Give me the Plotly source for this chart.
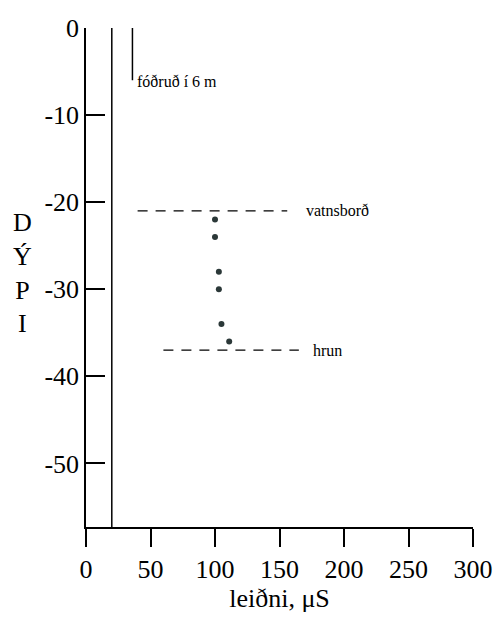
import plotly.graph_objects as go

# Data
x_ticks = [0, 50, 100, 150, 200, 250, 300]
y_ticks = [0, -10, -20, -30, -40, -50]
y_tick_labels = ["0", "-10", "-20", "-30", "-40", "-50"]

well_x = [20, 20]
well_depth = [0, -57.3]

casing_x = [36, 36]
casing_depth = [0, -6]
casing_label = "fóðruð í 6 m"

water_x = [40, 156]
water_depth = [-21, -21]
water_label = "vatnsborð"

collapse_x = [60, 165]
collapse_depth = [-37, -37]
collapse_label = "hrun"

cond = [100, 100, 103, 103, 105, 111]
depth = [-22, -24, -28, -30, -34, -36]

FONT = "Liberation Serif"

fig = go.Figure()
line = dict(color="black", width=1.5)
fig.add_trace(go.Scatter(x=well_x, y=well_depth, mode="lines", line=line, hoverinfo="skip"))
fig.add_trace(go.Scatter(x=casing_x, y=casing_depth, mode="lines", line=line, hoverinfo="skip"))
fig.add_trace(go.Scatter(x=water_x, y=water_depth, mode="lines",
                         line=dict(color="black", width=1.3, dash="10px,8px"), hoverinfo="skip"))
fig.add_trace(go.Scatter(x=collapse_x, y=collapse_depth, mode="lines",
                         line=dict(color="black", width=1.3, dash="10px,8px"), hoverinfo="skip"))
fig.add_trace(go.Scatter(x=cond, y=depth, mode="markers",
                         marker=dict(color="#2b3838", size=6)))

fig.add_annotation(x=casing_x[0], y=casing_depth[1], text=casing_label, showarrow=False,
                   xanchor="left", yanchor="middle", xshift=3, yshift=-1,
                   font=dict(family=FONT, size=16, color="black"))
fig.add_annotation(x=water_x[1], y=water_depth[0], text=water_label, showarrow=False,
                   xanchor="left", yanchor="middle", xshift=17,
                   font=dict(family=FONT, size=16, color="black"))
fig.add_annotation(x=collapse_x[1], y=collapse_depth[0], text=collapse_label, showarrow=False,
                   xanchor="left", yanchor="middle", xshift=12,
                   font=dict(family=FONT, size=16, color="black"))
fig.add_annotation(xref="paper", yref="paper", x=-0.165, y=0.51, text="D<br>Ý<br>P<br>I",
                   showarrow=False, xanchor="center", yanchor="middle", align="center",
                   font=dict(family=FONT, size=26, color="black"))

fig.update_layout(
    width=503, height=617,
    margin=dict(l=86, r=30, t=28, b=90, autoexpand=False),
    paper_bgcolor="white", plot_bgcolor="white",
    showlegend=False,
    font=dict(family=FONT, color="black", size=26),
    xaxis=dict(range=[0, 300], tickvals=x_ticks, ticks="outside", ticklen=18,
               tickwidth=1.5, tickcolor="black", showline=True, linecolor="black",
               linewidth=1.5, showgrid=False, zeroline=False, automargin=False,
               tickfont=dict(family=FONT, size=26, color="black"),
               title=dict(text="leiðni, μS", standoff=0,
                          font=dict(family=FONT, size=26, color="black"))),
    yaxis=dict(range=[-57.3, 0], tickvals=y_ticks, ticktext=y_tick_labels,
               ticks="inside", ticklen=19, tickwidth=1.5, tickcolor="black",
               showline=True, linecolor="black", linewidth=1.5, showgrid=False,
               zeroline=False, automargin=False,
               tickfont=dict(family=FONT, size=26, color="black")),
)

fig.write_html("out.html", config={"displayModeBar": False},
               post_script="document.body.style.margin='0';")
